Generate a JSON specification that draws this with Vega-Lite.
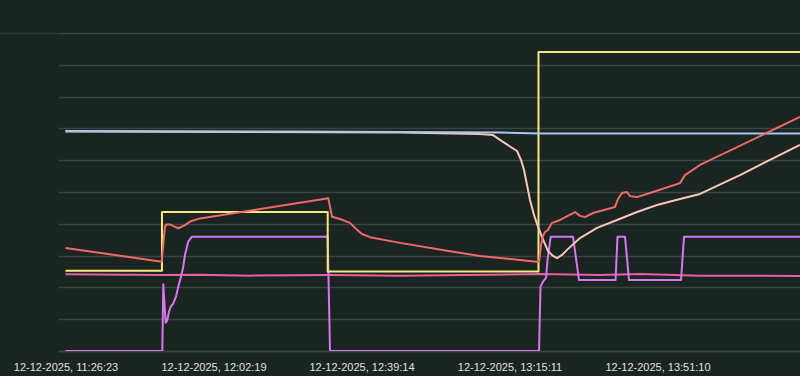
{
  "$schema": "https://vega.github.io/schema/vega-lite/v6.json",
  "width": 742,
  "height": 318,
  "autosize": {"type": "none"},
  "padding": {"left": 58, "top": 33, "right": 0, "bottom": 25},
  "background": "#1a2420",
  "config": {
    "view": {"stroke": null},
    "font": "Liberation Sans"
  },
  "data": {
    "values": [
      {"s": "pink", "i": 0, "t": 0, "v": 2.41},
      {"s": "pink", "i": 1, "t": 23, "v": 2.39},
      {"s": "pink", "i": 2, "t": 32.7, "v": 2.4},
      {"s": "pink", "i": 3, "t": 44.9, "v": 2.37},
      {"s": "pink", "i": 4, "t": 64.3, "v": 2.39},
      {"s": "pink", "i": 5, "t": 81.4, "v": 2.37},
      {"s": "pink", "i": 6, "t": 115.4, "v": 2.42},
      {"s": "pink", "i": 7, "t": 130, "v": 2.39},
      {"s": "pink", "i": 8, "t": 139.7, "v": 2.42},
      {"s": "pink", "i": 9, "t": 154.3, "v": 2.37},
      {"s": "pink", "i": 10, "t": 178.66, "v": 2.36},

      {"s": "purple", "i": 0, "t": 0, "v": 0},
      {"s": "purple", "i": 1, "t": 23.55, "v": 0},
      {"s": "purple", "i": 2, "t": 23.79, "v": 2.1},
      {"s": "purple", "i": 3, "t": 24.37, "v": 0.89},
      {"s": "purple", "i": 4, "t": 24.76, "v": 0.97},
      {"s": "purple", "i": 5, "t": 25.18, "v": 1.24},
      {"s": "purple", "i": 6, "t": 25.59, "v": 1.39},
      {"s": "purple", "i": 7, "t": 26.22, "v": 1.5},
      {"s": "purple", "i": 8, "t": 26.88, "v": 1.71},
      {"s": "purple", "i": 9, "t": 27.44, "v": 2.02},
      {"s": "purple", "i": 10, "t": 28.09, "v": 2.34},
      {"s": "purple", "i": 11, "t": 28.58, "v": 2.61},
      {"s": "purple", "i": 12, "t": 29.07, "v": 3.02},
      {"s": "purple", "i": 13, "t": 29.87, "v": 3.44},
      {"s": "purple", "i": 14, "t": 30.7, "v": 3.59},
      {"s": "purple", "i": 15, "t": 63.78, "v": 3.59},
      {"s": "purple", "i": 16, "t": 64.34, "v": 0},
      {"s": "purple", "i": 17, "t": 115.18, "v": 0},
      {"s": "purple", "i": 18, "t": 115.54, "v": 2.02},
      {"s": "purple", "i": 19, "t": 116.15, "v": 2.18},
      {"s": "purple", "i": 20, "t": 116.88, "v": 2.3},
      {"s": "purple", "i": 21, "t": 117.25, "v": 2.86},
      {"s": "purple", "i": 22, "t": 118.02, "v": 3.59},
      {"s": "purple", "i": 23, "t": 123.45, "v": 3.59},
      {"s": "purple", "i": 24, "t": 124.91, "v": 2.23},
      {"s": "purple", "i": 25, "t": 133.79, "v": 2.23},
      {"s": "purple", "i": 26, "t": 134.27, "v": 3.59},
      {"s": "purple", "i": 27, "t": 136.1, "v": 3.59},
      {"s": "purple", "i": 28, "t": 137.07, "v": 2.23},
      {"s": "purple", "i": 29, "t": 149.72, "v": 2.23},
      {"s": "purple", "i": 30, "t": 150.45, "v": 3.59},
      {"s": "purple", "i": 31, "t": 178.66, "v": 3.59},

      {"s": "yellow", "i": 0, "t": 0, "v": 2.52},
      {"s": "yellow", "i": 1, "t": 23.47, "v": 2.52},
      {"s": "yellow", "i": 2, "t": 23.47, "v": 4.37},
      {"s": "yellow", "i": 3, "t": 63.78, "v": 4.37},
      {"s": "yellow", "i": 4, "t": 63.78, "v": 2.5},
      {"s": "yellow", "i": 5, "t": 115.05, "v": 2.5},
      {"s": "yellow", "i": 6, "t": 115.05, "v": 9.4},
      {"s": "yellow", "i": 7, "t": 178.66, "v": 9.4},

      {"s": "pale", "i": 0, "t": 0, "v": 6.9},
      {"s": "pale", "i": 1, "t": 81.37, "v": 6.87},
      {"s": "pale", "i": 2, "t": 100.83, "v": 6.82},
      {"s": "pale", "i": 3, "t": 103.99, "v": 6.79},
      {"s": "pale", "i": 4, "t": 105.69, "v": 6.64},
      {"s": "pale", "i": 5, "t": 108.12, "v": 6.43},
      {"s": "pale", "i": 6, "t": 109.83, "v": 6.29},
      {"s": "pale", "i": 7, "t": 110.8, "v": 6.01},
      {"s": "pale", "i": 8, "t": 111.53, "v": 5.69},
      {"s": "pale", "i": 9, "t": 112.26, "v": 5.22},
      {"s": "pale", "i": 10, "t": 112.99, "v": 4.75},
      {"s": "pale", "i": 11, "t": 113.96, "v": 4.28},
      {"s": "pale", "i": 12, "t": 114.69, "v": 4.0},
      {"s": "pale", "i": 13, "t": 115.91, "v": 3.58},
      {"s": "pale", "i": 14, "t": 117.37, "v": 3.14},
      {"s": "pale", "i": 15, "t": 118.59, "v": 2.99},
      {"s": "pale", "i": 16, "t": 119.56, "v": 2.92},
      {"s": "pale", "i": 17, "t": 120.77, "v": 3.02},
      {"s": "pale", "i": 18, "t": 121.99, "v": 3.18},
      {"s": "pale", "i": 19, "t": 125.15, "v": 3.55},
      {"s": "pale", "i": 20, "t": 129.29, "v": 3.87},
      {"s": "pale", "i": 21, "t": 134.15, "v": 4.12},
      {"s": "pale", "i": 22, "t": 139.01, "v": 4.37},
      {"s": "pale", "i": 23, "t": 143.88, "v": 4.59},
      {"s": "pale", "i": 24, "t": 149.47, "v": 4.78},
      {"s": "pale", "i": 25, "t": 154.34, "v": 4.94},
      {"s": "pale", "i": 26, "t": 164.07, "v": 5.53},
      {"s": "pale", "i": 27, "t": 171.37, "v": 6.01},
      {"s": "pale", "i": 28, "t": 178.66, "v": 6.48},

      {"s": "blue", "i": 0, "t": 0, "v": 6.92},
      {"s": "blue", "i": 1, "t": 57.04, "v": 6.9},
      {"s": "blue", "i": 2, "t": 105.69, "v": 6.87},
      {"s": "blue", "i": 3, "t": 115.42, "v": 6.84},
      {"s": "blue", "i": 4, "t": 178.66, "v": 6.84},

      {"s": "red", "i": 0, "t": 0, "v": 3.24},
      {"s": "red", "i": 1, "t": 23.4, "v": 2.81},
      {"s": "red", "i": 2, "t": 24.2, "v": 3.91},
      {"s": "red", "i": 3, "t": 24.62, "v": 3.98},
      {"s": "red", "i": 4, "t": 25.42, "v": 3.98},
      {"s": "red", "i": 5, "t": 26.39, "v": 3.92},
      {"s": "red", "i": 6, "t": 27.44, "v": 3.86},
      {"s": "red", "i": 7, "t": 29.07, "v": 3.96},
      {"s": "red", "i": 8, "t": 30.28, "v": 4.07},
      {"s": "red", "i": 9, "t": 32.72, "v": 4.17},
      {"s": "red", "i": 10, "t": 63.93, "v": 4.8},
      {"s": "red", "i": 11, "t": 64.83, "v": 4.22},
      {"s": "red", "i": 12, "t": 66.77, "v": 4.15},
      {"s": "red", "i": 13, "t": 69.2, "v": 4.03},
      {"s": "red", "i": 14, "t": 70.91, "v": 3.81},
      {"s": "red", "i": 15, "t": 72.12, "v": 3.68},
      {"s": "red", "i": 16, "t": 74.07, "v": 3.58},
      {"s": "red", "i": 17, "t": 81.37, "v": 3.4},
      {"s": "red", "i": 18, "t": 93.53, "v": 3.14},
      {"s": "red", "i": 19, "t": 100.83, "v": 2.99},
      {"s": "red", "i": 20, "t": 115.18, "v": 2.8},
      {"s": "red", "i": 21, "t": 115.67, "v": 3.33},
      {"s": "red", "i": 22, "t": 116.15, "v": 3.62},
      {"s": "red", "i": 23, "t": 116.64, "v": 3.74},
      {"s": "red", "i": 24, "t": 117.37, "v": 3.81},
      {"s": "red", "i": 25, "t": 118.34, "v": 4.03},
      {"s": "red", "i": 26, "t": 120.29, "v": 4.12},
      {"s": "red", "i": 27, "t": 123.94, "v": 4.37},
      {"s": "red", "i": 28, "t": 125.15, "v": 4.25},
      {"s": "red", "i": 29, "t": 126.37, "v": 4.21},
      {"s": "red", "i": 30, "t": 128.31, "v": 4.34},
      {"s": "red", "i": 31, "t": 133.66, "v": 4.53},
      {"s": "red", "i": 32, "t": 134.39, "v": 4.78},
      {"s": "red", "i": 33, "t": 135.37, "v": 4.97},
      {"s": "red", "i": 34, "t": 136.58, "v": 5.0},
      {"s": "red", "i": 35, "t": 137.31, "v": 4.87},
      {"s": "red", "i": 36, "t": 139.01, "v": 4.84},
      {"s": "red", "i": 37, "t": 142.9, "v": 5.0},
      {"s": "red", "i": 38, "t": 149.47, "v": 5.28},
      {"s": "red", "i": 39, "t": 150.69, "v": 5.53},
      {"s": "red", "i": 40, "t": 154.34, "v": 5.85},
      {"s": "red", "i": 41, "t": 178.66, "v": 7.36}
    ]
  },
  "mark": {"type": "line", "strokeWidth": 2, "clip": true, "strokeJoin": "round"},
  "encoding": {
    "x": {
      "field": "t",
      "type": "quantitative",
      "scale": {"domain": [-1.82, 178.66], "nice": false, "zero": false},
      "axis": {
        "title": null,
        "values": [0, 36, 72, 108, 144],
        "labelExpr": "datum.value == 0 ? '12-12-2025, 11:26:23' : datum.value == 36 ? '12-12-2025, 12:02:19' : datum.value == 72 ? '12-12-2025, 12:39:14' : datum.value == 108 ? '12-12-2025, 13:15:11' : '12-12-2025, 13:51:10'",
        "grid": false,
        "ticks": false,
        "tickSize": 0,
        "domain": true,
        "domainColor": "#3a4541",
        "domainWidth": 1.5,
        "labelColor": "#e2e2e2",
        "labelFontSize": 11,
        "labelFont": "Liberation Sans",
        "labelPadding": 10,
        "labelFlush": false,
        "labelOverlap": false
      }
    },
    "y": {
      "field": "v",
      "type": "quantitative",
      "scale": {"domain": [0, 10], "nice": false},
      "axis": {
        "title": null,
        "values": [0, 1, 2, 3, 4, 5, 6, 7, 8, 9, 10],
        "labels": false,
        "domain": false,
        "ticks": true,
        "tickSize": 58,
        "tickColor": {"condition": {"test": "datum.value == 10", "value": "#2c3733"}, "value": "transparent"},
        "tickWidth": 1.5,
        "grid": true,
        "gridColor": "#3a4541",
        "gridWidth": 1.5
      }
    },
    "color": {
      "field": "s",
      "type": "nominal",
      "scale": {
        "domain": ["pink", "purple", "yellow", "pale", "blue", "red"],
        "range": ["#e8609e", "#d678ef", "#f2ea7c", "#f7c6bd", "#a8c8f0", "#f06a6a"]
      },
      "legend": null
    },
    "order": {"field": "i", "type": "quantitative"}
  }
}
